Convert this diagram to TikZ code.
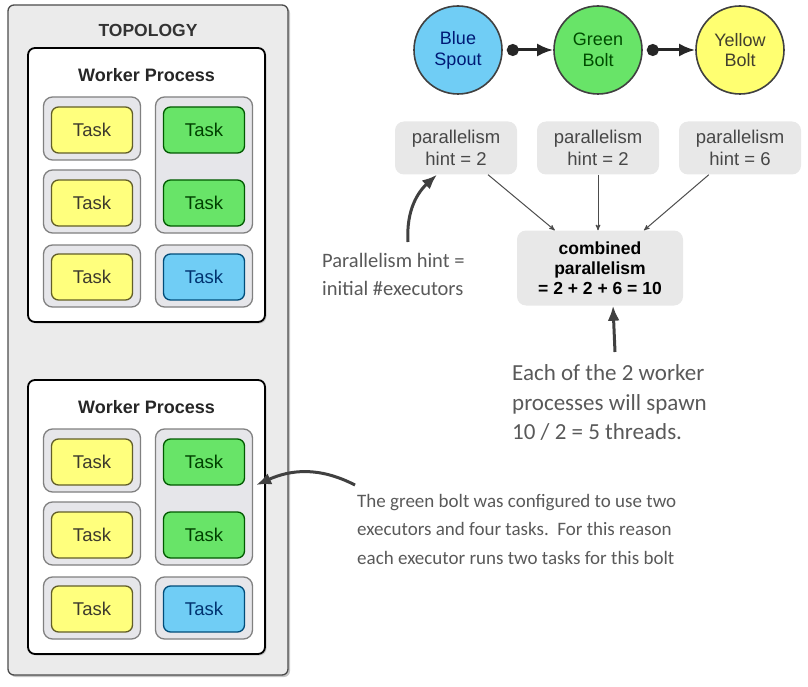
\documentclass[tikz,border=0pt]{standalone}
\usepackage{fontspec}
\setmainfont{Liberation Sans}
\newfontfamily\handfont{Carlito}
\usetikzlibrary{arrows,arrows.meta,shadows}
\definecolor{jaune}{RGB}{255,255,125}
\definecolor{vert}{RGB}{104,228,104}
\definecolor{bleu}{RGB}{112,205,245}
\definecolor{gris}{RGB}{235,235,235}
\definecolor{exec}{RGB}{230,230,234}
\colorlet{jauneb}{olive!60!black}
\colorlet{vertb}{green!35!black}
\colorlet{bleub}{blue!25!black!70!cyan}
\colorlet{crayon}{black!65}
\newcommand\fsz[1]{\fontsize{#1}{#1}\selectfont}

\begin{document}
\begin{tikzpicture}[x=1pt,y=-1pt]%
        \useasboundingbox (0,0) rectangle (808,687);%%
        % topology and workers
        \node[draw=black!70,fill=gris,line width=1.3pt,rounded corners=6pt,minimum width=280,minimum height=670,drop shadow={shadow xshift=2pt,shadow yshift=-2pt,fill=black!45}] (topo) at (148,340) {}; %%
        \node[font=\fsz{17.5}\bfseries,text=black!80] (title) at (148,30) {TOPOLOGY}; %%
        \begin{scope}
        \tikzstyle{every node}=[draw=black,fill=white,line width=1.8pt,rounded corners=7pt,minimum width=237,minimum height=274,drop shadow={shadow xshift=1.5pt,shadow yshift=-1.5pt,fill=black!35}] %%
        \node (wp1) at (146.5,185) {}; %%
        \node (wp2) at (146.5,517) {}; %%
        \end{scope}
        \node[font=\fsz{18}\bfseries,text=black!85] (wl1) at (146.5,75) {Worker Process}; %%
        \node[font=\fsz{18}\bfseries,text=black!85] (wl2) at (146.5,407) {Worker Process}; %%
        % executors
        \begin{scope}
        \tikzstyle{every node}=[draw=black!50,fill=exec,line width=1.3pt,rounded corners=9pt,minimum width=97] %%
        \node[minimum height=63] (e1a) at (92,128.5) {}; %%
        \node[minimum height=63] (e1b) at (92,201.5) {}; %%
        \node[minimum height=62] (e1c) at (92,276) {}; %%
        \node[minimum height=136] (e1d) at (204,165) {}; %%
        \node[minimum height=62] (e1e) at (204,276) {}; %%
        \node[minimum height=63] (e2a) at (92,460.5) {}; %%
        \node[minimum height=63] (e2b) at (92,533.5) {}; %%
        \node[minimum height=62] (e2c) at (92,608) {}; %%
        \node[minimum height=136] (e2d) at (204,497) {}; %%
        \node[minimum height=62] (e2e) at (204,608) {}; %%
        \end{scope}
        % tasks
        \begin{scope}
        \tikzstyle{every node}=[draw,line width=1.3pt,rounded corners=7pt,minimum width=81,minimum height=46,font=\fsz{18.5}] %%
        \node[fill=jaune,draw=jauneb,text=black!75!olive] (t1a) at (92,130) {Task}; %%
        \node[fill=jaune,draw=jauneb,text=black!75!olive] (t1b) at (92,203) {Task}; %%
        \node[fill=jaune,draw=jauneb,text=black!75!olive] (t1c) at (92,277) {Task}; %%
        \node[fill=vert,draw=vertb,text=green!25!black] (t1d) at (204,130) {Task}; %%
        \node[fill=vert,draw=vertb,text=green!25!black] (t1e) at (204,203) {Task}; %%
        \node[fill=bleu,draw=bleub,text=blue!30!black!80!cyan] (t1f) at (204,277) {Task}; %%
        \node[fill=jaune,draw=jauneb,text=black!75!olive] (t2a) at (92,462) {Task}; %%
        \node[fill=jaune,draw=jauneb,text=black!75!olive] (t2b) at (92,535) {Task}; %%
        \node[fill=jaune,draw=jauneb,text=black!75!olive] (t2c) at (92,609) {Task}; %%
        \node[fill=vert,draw=vertb,text=green!25!black] (t2d) at (204,462) {Task}; %%
        \node[fill=vert,draw=vertb,text=green!25!black] (t2e) at (204,535) {Task}; %%
        \node[fill=bleu,draw=bleub,text=blue!30!black!80!cyan] (t2f) at (204,609) {Task}; %%
        \end{scope}
        % spout and bolts
        \begin{scope}[shape=circle]
        \tikzstyle{every node}=[draw=black!75,line width=1.6pt,minimum size=88,inner sep=0pt,align=center,font=\fsz{18}\linespread{1.15}\selectfont] %%
        \node[fill=bleu,text=blue!40!black!90!cyan] (spout) at (458,50) {Blue\\Spout}; %%
        \node[fill=vert,text=green!30!black] (gbolt) at (598,50) {Green\\Bolt}; %%
        \node[fill=jaune!90!yellow,text=black!70!olive] (ybolt) at (740,50) {Yellow\\Bolt}; %%
        \end{scope}
        \draw[{Circle[length=12pt]}-{Latex[length=16pt,width=13pt]},line width=3pt,black!85,shorten <=4pt] (spout)--(gbolt); %%
        \draw[{Circle[length=12pt]}-{Latex[length=16pt,width=13pt]},line width=3pt,black!85,shorten <=4pt] (gbolt)--(ybolt); %%
        % hints
        \begin{scope}
        \tikzstyle{every node}=[fill=black!9,rounded corners=9pt,minimum width=122,minimum height=53,inner sep=2pt,align=center,text=black!72,font=\fsz{18.5}\linespread{1.15}\selectfont] %%
        \node (h1) at (456,148) {parallelism\\hint = 2}; %%
        \node (h2) at (598,148) {parallelism\\hint = 2}; %%
        \node (h3) at (740,148) {parallelism\\hint = 6}; %%
        \node[minimum width=166,minimum height=75,text=black,font=\fsz{17.5}\bfseries\linespread{1.15}\selectfont] (comb) at (600,268) {combined\\parallelism\\= 2 + 2 + 6 = 10}; %%
        \end{scope}
        \draw[->,-stealth',black!70,line width=1pt] (h1)--(comb); %%
        \draw[->,-stealth',black!70,line width=1pt] (h2.south)--(h2.south |- comb.north); %%
        \draw[->,-stealth',black!70,line width=1pt] (h3)--(comb); %%
        % hand notes
        \begin{scope}
        \tikzstyle{every node}=[anchor=north west,align=left,inner sep=0pt,text=crayon] %%
        \node[font=\handfont\fsz{20.5}\linespread{1.35}\selectfont] (n1) at (322,253) {Parallelism hint =\\initial \#executors}; %%
        \node[font=\handfont\fsz{23}\linespread{1.3}\selectfont] (n2) at (512,364) {Each of the 2 worker\\processes will spawn\\10 / 2 = 5 threads.}; %%
        \node[font=\handfont\fsz{19}\linespread{1.5}\selectfont] (n3) at (357,494) {The green bolt was configured to use two\\executors and four tasks.\ \ For this reason\\each executor runs two tasks for this bolt}; %%
        \end{scope}
        \coordinate (n1tail) at (408,242); %%
        \coordinate (n2tail) at (615,352); %%
        \coordinate (n3tail) at (355,485); %%
        \draw[-{Latex[length=15pt,width=12pt]},line width=3pt,black!75] (n1tail) .. controls (406,210) and (418,192) .. ([xshift=-19pt]h1.south); %%
        \draw[-{Latex[length=15pt,width=12pt]},line width=3pt,black!75] (n2tail)--([xshift=13pt]comb.south); %%
        \draw[-{Latex[length=15pt,width=12pt]},line width=3pt,black!75] (n3tail) .. controls (318,466) and (290,470) .. ([xshift=3pt,yshift=12pt]e2d.east); %%
        \end{tikzpicture}
\end{document}
